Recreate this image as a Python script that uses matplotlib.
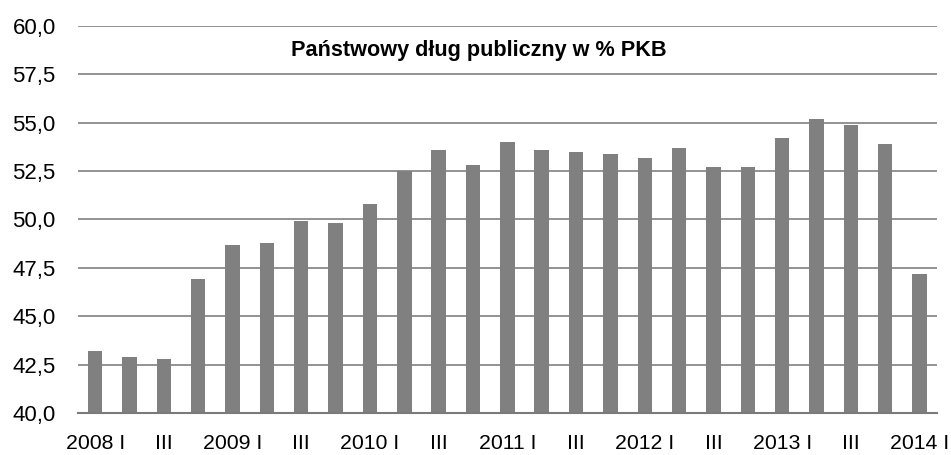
import matplotlib.pyplot as plt
import numpy as np

plt.rcParams['font.family'] = ['Liberation Sans', 'DejaVu Sans']

# quarterly data 2008 I - 2014 I
quarters = ["2008 I", "II", "III", "IV", "2009 I", "II", "III", "IV",
            "2010 I", "II", "III", "IV", "2011 I", "II", "III", "IV",
            "2012 I", "II", "III", "IV", "2013 I", "II", "III", "IV", "2014 I"]
debt = [43.2, 42.9, 42.8, 46.9, 48.7, 48.8, 49.9, 49.8,
        50.8, 52.5, 53.6, 52.8, 54.0, 53.6, 53.5, 53.4,
        53.2, 53.7, 52.7, 52.7, 54.2, 55.2, 54.9, 53.9, 47.2]
yticks = [40.0, 42.5, 45.0, 47.5, 50.0, 52.5, 55.0, 57.5, 60.0]
title = "Państwowy dług publiczny w % PKB"

fig = plt.figure(figsize=(9.51, 4.55), dpi=100)
ax = fig.add_axes([0.082, 0.0923, 0.903, 0.8507])

x = np.arange(len(debt))
ax.bar(x, debt, width=0.42, color='#808080', zorder=3)

ax.set_xlim(-0.5, len(debt) - 0.5)
ax.set_ylim(40, 60)
ax.set_yticks(yticks)
ax.set_yticklabels([f"{v:.1f}".replace('.', ',') for v in yticks], fontsize=16)
ax.set_xticks(x[::2])
ax.set_xticklabels(quarters[::2], fontsize=15.3)
ax.tick_params(axis='both', length=0, colors='#000000')
ax.tick_params(axis='y', pad=16)
ax.tick_params(axis='x', pad=15)

ax.grid(axis='y', color='#8a8a8a', linewidth=1.3, zorder=0)
for s in ['left', 'right', 'top']:
    ax.spines[s].set_visible(False)
ax.spines['bottom'].set_color('#7a7a7a')
ax.spines['bottom'].set_linewidth(1.5)
ax.spines['bottom'].set_zorder(4)

ax.text(0.467, 0.922, title, transform=ax.transAxes, ha='center', va='baseline',
        fontsize=15.6, fontweight='bold')

fig.savefig('out.png', dpi=100)
